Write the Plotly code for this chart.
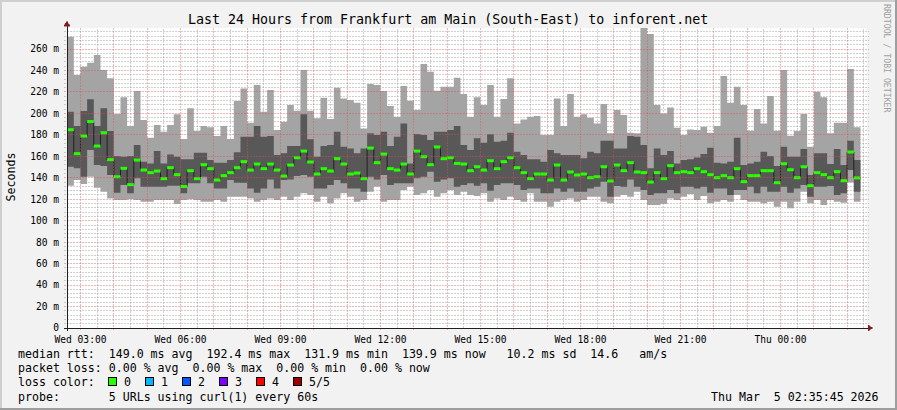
import plotly.graph_objects as go
from datetime import datetime, timedelta

# ---------------- data (ms) ----------------
start_time = datetime(2026, 3, 4, 2, 36)   # first 12-minute bucket
step_minutes = 12

rtt_max = [271.5, 235.8, 243.5, 247.2, 254.4, 240.4, 232.7, 199.4, 215.0, 188.2,
           220.9, 193.8, 177.4, 189.2, 183.0, 189.2, 199.1, 176.1, 204.7, 183.6,
           188.2, 187.0, 178.9, 188.2, 176.1, 211.5, 223.3, 191.3, 226.4, 201.6,
           221.8, 184.5, 192.3, 207.8, 202.5, 240.4, 202.5, 195.4, 214.6, 194.8,
           224.0, 214.0, 212.5, 210.0, 186.0, 227.4, 226.4, 220.9, 206.9, 196.9,
           225.5, 211.8, 203.1, 246.0, 238.9, 221.2, 224.9, 224.9, 233.3, 218.1,
           196.9, 215.0, 207.8, 226.4, 196.9, 213.4, 232.7, 190.7, 194.4, 196.9,
           197.6, 179.9, 179.9, 214.0, 188.2, 218.1, 196.9, 199.1, 196.0, 190.7,
           208.7, 181.4, 203.1, 198.5, 182.0, 181.4, 280.2, 274.0, 207.8, 200.0,
           205.6, 186.7, 179.9, 185.1, 184.5, 187.6, 182.0, 188.2, 234.8, 210.0,
           224.9, 207.8, 183.9, 204.1, 190.7, 216.2, 183.9, 240.4, 179.2, 183.6,
           199.4, 169.0, 220.2, 215.0, 181.4, 191.3, 191.3, 241.3, 187.0]

rtt_upper = [201.6, 188.2, 202.2, 213.1, 188.2, 204.7, 183.6, 160.3, 159.7, 160.3,
             170.5, 155.0, 153.4, 164.9, 153.4, 161.8, 159.7, 157.2, 157.2, 163.4,
             163.4, 156.5, 154.1, 154.1, 156.5, 163.7, 178.3, 178.3, 188.2, 178.3,
             178.9, 161.2, 162.8, 169.6, 169.6, 199.1, 175.8, 159.7, 169.6, 170.5,
             183.0, 169.0, 167.4, 162.8, 167.4, 181.4, 179.9, 183.0, 169.6, 178.3,
             190.7, 153.4, 180.8, 179.9, 175.2, 183.0, 183.0, 184.5, 188.2, 170.5,
             165.9, 176.8, 172.7, 180.5, 173.6, 174.6, 182.0, 164.3, 161.2, 157.2,
             157.2, 155.0, 165.9, 162.8, 161.2, 161.2, 161.2, 158.1, 164.3, 162.8,
             174.6, 174.6, 167.4, 167.4, 178.9, 178.3, 170.5, 148.8, 167.4, 161.2,
             164.9, 153.4, 156.5, 157.2, 159.0, 162.1, 168.0, 154.1, 153.4, 155.0,
             177.4, 151.9, 153.4, 155.0, 164.3, 160.3, 151.0, 169.0, 159.7, 159.7,
             166.8, 142.6, 162.8, 162.8, 152.8, 166.8, 151.9, 174.6, 156.5]

rtt_median = [184.8, 162.5, 178.9, 192.4, 169.6, 182.0, 156.9, 141.0, 148.8, 133.6,
              156.5, 147.2, 144.8, 146.3, 139.2, 149.4, 142.9, 131.9, 146.6, 139.2,
              152.2, 148.5, 137.9, 142.0, 144.8, 149.4, 155.0, 147.2, 152.8, 148.5,
              152.8, 147.2, 141.6, 151.9, 158.7, 164.9, 154.7, 143.5, 148.5, 146.3,
              157.8, 152.8, 143.5, 144.4, 139.2, 167.7, 154.1, 162.1, 148.5, 147.2,
              152.8, 143.5, 164.9, 159.7, 152.2, 168.7, 157.8, 158.7, 153.4, 152.8,
              146.6, 150.3, 147.2, 155.9, 148.5, 155.0, 158.7, 149.4, 144.8, 139.2,
              143.5, 143.5, 137.9, 151.9, 137.9, 145.4, 142.6, 143.5, 140.1, 141.0,
              150.3, 137.0, 151.9, 146.6, 154.1, 145.4, 144.8, 136.0, 144.8, 139.2,
              151.3, 144.8, 145.7, 144.8, 148.5, 145.7, 142.9, 140.1, 142.0, 140.1,
              148.5, 136.4, 142.0, 142.0, 146.6, 146.6, 135.4, 153.1, 147.5, 140.1,
              150.3, 132.6, 144.8, 142.9, 140.1, 145.7, 137.3, 164.0, 139.9]

rtt_lower = [150.3, 148.8, 141.0, 165.9, 151.9, 151.0, 142.6, 126.1, 133.3, 125.5,
             139.5, 131.7, 131.7, 131.7, 131.7, 132.6, 132.6, 125.5, 134.8, 134.8,
             141.0, 134.8, 130.1, 130.1, 137.9, 135.4, 135.4, 130.1, 126.1, 130.1,
             138.5, 130.1, 137.9, 138.5, 141.6, 142.6, 141.0, 130.1, 130.1, 133.3,
             137.9, 134.8, 130.1, 130.1, 127.0, 141.0, 138.5, 142.6, 133.3, 134.8,
             134.8, 134.8, 139.5, 141.0, 145.7, 136.4, 138.5, 139.5, 131.7, 133.3,
             134.8, 132.6, 134.8, 128.0, 133.3, 134.8, 134.8, 133.3, 128.6, 130.1,
             130.1, 125.5, 125.5, 130.1, 127.0, 130.1, 127.0, 127.0, 130.1, 131.7,
             136.4, 122.4, 132.3, 131.7, 138.5, 131.7, 128.6, 123.9, 125.5, 125.5,
             128.6, 125.5, 131.7, 131.7, 130.1, 131.7, 126.1, 130.1, 130.1, 123.9,
             128.6, 128.6, 131.7, 125.5, 131.7, 127.0, 127.0, 131.7, 126.1, 130.1,
             133.3, 122.4, 131.7, 131.7, 132.3, 123.9, 125.5, 147.2, 127.0]

rtt_min = [132.6, 137.9, 134.2, 141.0, 130.8, 127.0, 120.8, 119.3, 119.3, 119.9,
           119.3, 117.7, 117.7, 119.3, 119.3, 119.3, 115.6, 119.3, 119.9, 119.3,
           117.7, 117.7, 119.3, 117.7, 122.4, 122.4, 122.4, 120.8, 117.7, 119.3,
           120.8, 119.3, 122.4, 119.3, 122.4, 125.5, 123.9, 117.7, 122.4, 116.2,
           120.8, 125.5, 122.4, 117.7, 119.3, 127.0, 131.7, 117.7, 119.3, 119.3,
           128.6, 131.7, 123.9, 125.5, 128.6, 122.4, 125.5, 128.6, 123.9, 127.0,
           123.9, 123.0, 125.5, 117.7, 120.8, 119.3, 122.4, 119.3, 117.7, 125.5,
           117.7, 117.7, 113.1, 117.7, 119.3, 120.8, 117.7, 119.3, 122.4, 122.4,
           117.7, 116.2, 122.4, 123.9, 122.4, 127.0, 119.3, 114.6, 114.6, 115.6,
           120.8, 119.3, 122.4, 124.9, 119.3, 123.0, 116.2, 117.7, 119.3, 117.7,
           123.9, 119.3, 117.7, 117.7, 116.2, 117.7, 113.1, 117.7, 111.5, 117.7,
           127.0, 116.2, 119.3, 114.6, 119.3, 117.7, 116.8, 135.7, 117.7]

y_tick_values = list(range(0, 261, 20))
y_tick_labels = ["0"] + [f"{v} m" for v in y_tick_values[1:]]

loss_labels = ["0", "1", "2", "3", "4", "5/5"]
loss_colors = ["#26ff00", "#00b8ff", "#0059ff", "#7e00ff", "#ff0000", "#a10000"]

title_text = "Last 24 Hours from Frankfurt am Main (South-East) to inforent.net"
legend_lines = [
    "median rtt:  149.0 ms avg  192.4 ms max  131.9 ms min  139.9 ms now   10.2 ms sd  14.6   am/s",
    "packet loss: 0.00 % avg  0.00 % max  0.00 % min  0.00 % now",
    "loss color:",
    "probe:       5 URLs using curl(1) every 60s",
]
stamp_text = "Thu Mar  5 02:35:45 2026"

# ---------------- geometry ----------------
W, H = 897, 410
L, R, T, B = 67, 867, 28, 328
Y_MAX = 279.6
x_start = datetime(2026, 3, 4, 2, 35, 45)
x_end = datetime(2026, 3, 5, 2, 35, 45)
MONO = "DejaVu Sans Mono"


def px(x):
    return (x - L) / (R - L)


def py(y):
    return (B - y) / (B - T)


n = len(rtt_median)
step = timedelta(minutes=step_minutes)
edges = [start_time + i * step for i in range(n + 1)]


def stepped(vals):
    return list(vals) + [vals[-1]]


fig = go.Figure()
common = dict(x=edges, mode="lines", line_shape="hv", hoverinfo="skip", showlegend=False)
fig.add_trace(go.Scatter(y=stepped(rtt_min), line=dict(width=0), **common))
fig.add_trace(go.Scatter(y=stepped(rtt_max), line=dict(width=0), fill="tonexty",
                         fillcolor="#a4a4a4", **common))
fig.add_trace(go.Scatter(y=stepped(rtt_lower), line=dict(width=0), **common))
fig.add_trace(go.Scatter(y=stepped(rtt_upper), line=dict(width=0), fill="tonexty",
                         fillcolor="#585858", **common))
fig.add_trace(go.Scatter(y=stepped(rtt_median), line=dict(width=1, color="#202020"), **common))

gx, gy = [], []
for i, m in enumerate(rtt_median):
    gx += [edges[i], edges[i + 1], None]
    gy += [m, m, None]
fig.add_trace(go.Scatter(x=gx, y=gy, mode="lines", line=dict(width=3, color=loss_colors[0]),
                         hoverinfo="skip", showlegend=False))

shapes = []
MINOR = "rgba(143,143,143,0.42)"
MAJOR = "rgba(222,79,79,0.42)"

# vertical grid
t = datetime(2026, 3, 4, 3, 0)
while t < x_end:
    is_major = t.minute == 0
    shapes.append(dict(type="line", xref="x", yref="paper", x0=t, x1=t,
                       y0=py(B + 2) if is_major else 0, y1=1,
                       layer="above" if is_major else "below",
                       line=dict(color=MAJOR if is_major else MINOR, width=1, dash="2px,1px")))
    t += timedelta(minutes=30)

# horizontal grid
for v in range(4, int(Y_MAX) + 1, 4):
    is_major = v % 20 == 0
    shapes.append(dict(type="line", xref="paper", yref="y", x0=px(L - 3), x1=px(R + 2),
                       y0=v, y1=v, layer="above" if is_major else "below",
                       line=dict(color=MAJOR if is_major else MINOR, width=1, dash="2px,1px")))

# axes
AX = "#1f1f1f"
ARROW = "#801f1f"
shapes.append(dict(type="line", xref="paper", yref="paper", x0=px(L - 3), x1=px(R + 2),
                   y0=0, y1=0, layer="above", line=dict(color=AX, width=1)))
shapes.append(dict(type="line", xref="paper", yref="paper", x0=0, x1=0,
                   y0=py(B + 3), y1=py(24), layer="above", line=dict(color=AX, width=1)))
shapes.append(dict(type="path", xref="paper", yref="paper", layer="above",
                   path=f"M {px(R+1)} {py(B-3)} L {px(R+6)} {py(B)} L {px(R+1)} {py(B+3)} Z",
                   fillcolor=ARROW, line=dict(color=ARROW, width=0.5)))
shapes.append(dict(type="path", xref="paper", yref="paper", layer="above",
                   path=f"M {px(L-3)} {py(26)} L {px(L)} {py(21)} L {px(L+3)} {py(26)} Z",
                   fillcolor=ARROW, line=dict(color=ARROW, width=0.5)))

# frame shading
shapes.append(dict(type="rect", xref="paper", yref="paper", x0=px(0), x1=px(W), y0=py(0), y1=py(2),
                   fillcolor="#cfcfcf", line=dict(width=0), layer="below"))
shapes.append(dict(type="rect", xref="paper", yref="paper", x0=px(0), x1=px(2), y0=py(0), y1=py(H),
                   fillcolor="#cfcfcf", line=dict(width=0), layer="below"))
shapes.append(dict(type="rect", xref="paper", yref="paper", x0=px(0), x1=px(W), y0=py(H - 2), y1=py(H),
                   fillcolor="#9e9e9e", line=dict(width=0), layer="below"))
shapes.append(dict(type="rect", xref="paper", yref="paper", x0=px(W - 2), x1=px(W), y0=py(0), y1=py(H),
                   fillcolor="#9e9e9e", line=dict(width=0), layer="below"))

annotations = []
FS = 11.6
line_y = [354, 368, 382, 396.5]
for text, yy in zip(legend_lines, line_y):
    annotations.append(dict(xref="paper", yref="paper", x=px(16), y=py(yy), xanchor="left",
                            yanchor="middle", showarrow=False, text=text.replace(" ", "\u00a0"),
                            font=dict(family=MONO, size=FS, color="#000000")))

# loss color boxes
for k, (lab, col) in enumerate(zip(loss_labels, loss_colors)):
    bx = 108.3 + k * 37.0
    shapes.append(dict(type="rect", xref="paper", yref="paper", x0=px(bx), x1=px(bx + 8),
                       y0=py(377.5), y1=py(385.5), fillcolor=col, layer="above",
                       line=dict(color="#000000", width=1)))
    annotations.append(dict(xref="paper", yref="paper", x=px(bx + 14), y=py(382),
                            xanchor="left", yanchor="middle", showarrow=False, text=lab,
                            font=dict(family=MONO, size=FS, color="#000000")))

annotations.append(dict(xref="paper", yref="paper", x=px(880.5), y=py(396.5), xanchor="right",
                        yanchor="middle", showarrow=False, text=stamp_text.replace(" ", "\u00a0"),
                        font=dict(family=MONO, size=FS, color="#000000")))
annotations.append(dict(xref="paper", yref="paper", x=px(448), y=py(19.5), xanchor="center",
                        yanchor="middle", showarrow=False, text=title_text,
                        font=dict(family=MONO, size=13.3, color="#000000")))
annotations.append(dict(xref="paper", yref="paper", x=px(10.5), y=py(177), xanchor="center",
                        yanchor="middle", showarrow=False, text="Seconds", textangle=-90,
                        font=dict(family=MONO, size=FS, color="#000000")))
annotations.append(dict(xref="paper", yref="paper", x=px(887), y=py(59), xanchor="center",
                        yanchor="middle", showarrow=False, text="RRDTOOL / TOBI OETIKER",
                        textangle=90, font=dict(family=MONO, size=8.2, color="#a0a0a0")))

# x ticks every 3 hours
x_tick_vals = [datetime(2026, 3, 4, 3, 0) + timedelta(hours=3 * i) for i in range(8)]
x_tick_text = [d.strftime("%a %H:%M") for d in x_tick_vals]

fig.update_layout(
    width=W, height=H,
    margin=dict(l=L, r=W - R, t=T, b=H - B, pad=0),
    paper_bgcolor="#f2f2f2", plot_bgcolor="#ffffff",
    showlegend=False,
    shapes=shapes, annotations=annotations,
    xaxis=dict(type="date", range=[x_start, x_end], showgrid=False, zeroline=False,
               showline=False, tickmode="array", tickvals=x_tick_vals, ticktext=x_tick_text,
               ticks="outside", ticklen=2, tickcolor="rgba(0,0,0,0)",
               tickfont=dict(family=MONO, size=9.6, color="#000000")),
    yaxis=dict(range=[0, Y_MAX], showgrid=False, zeroline=False, showline=False,
               tickmode="array", tickvals=y_tick_values, ticktext=y_tick_labels,
               ticks="outside", ticklen=5, tickcolor="rgba(0,0,0,0)",
               tickfont=dict(family=MONO, size=9.6, color="#000000")),
)

post = (
    "document.body.style.margin='0';document.body.style.padding='0';"
    "document.body.style.overflow='hidden';"
    "document.querySelectorAll('.shapelayer path').forEach(function(p){"
    "p.style.shapeRendering='crispEdges';});"
)
fig.write_html("out.html", config={"displayModeBar": False}, post_script=post)
